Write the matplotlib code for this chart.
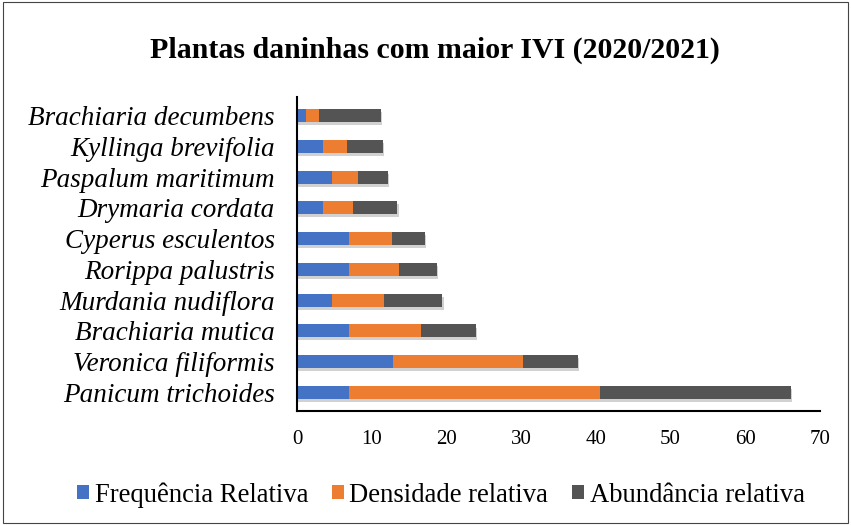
import matplotlib
matplotlib.use("Agg")
import matplotlib.pyplot as plt
import matplotlib.patheffects as pe
from matplotlib.patches import Rectangle
import numpy as np

species = ["Panicum trichoides", "Veronica filiformis", "Brachiaria mutica",
           "Murdania nudiflora", "Rorippa palustris", "Cyperus esculentos",
           "Drymaria cordata", "Paspalum maritimum", "Kyllinga brevifolia",
           "Brachiaria decumbens"]
freq_rel = [7.0, 12.9, 7.0, 4.66, 7.0, 7.0, 3.45, 4.7, 3.45, 1.17]
dens_rel = [33.5, 17.4, 9.6, 7.0, 6.6, 5.7, 4.0, 3.5, 3.2, 1.8]
abund_rel = [25.6, 7.3, 7.3, 7.8, 5.1, 4.4, 6.0, 4.0, 4.8, 8.3]
series_names = ["Frequência Relativa", "Densidade relativa", "Abundância relativa"]
colors = ["#4472C4", "#ED7D31", "#545454"]
xticks = [0, 10, 20, 30, 40, 50, 60, 70]

serif = ["Liberation Serif", "DejaVu Serif"]

fig = plt.figure(figsize=(8.51, 5.25), dpi=100)
ax = fig.add_axes([297/851, 1 - 411/525, (820-297)/851, (411-97)/525])

y = np.arange(len(species))
left = np.zeros(len(species))
shadow = [pe.SimplePatchShadow(offset=(0.8, -2.2), shadow_rgbFace="#000000", alpha=0.18), pe.Normal()]
for vals, name, c in zip([freq_rel, dens_rel, abund_rel], series_names, colors):
    bars = ax.barh(y, vals, left=left, height=0.42, color=c, label=name)
    for b in bars:
        b.set_path_effects(shadow)
    left = left + np.array(vals)

ax.set_xlim(0, 70)
ax.set_ylim(-0.6, len(species) - 0.4)
ax.set_xticks(xticks)
ax.set_xticklabels([str(t) for t in xticks], fontfamily=serif, fontsize=15)
ax.set_yticks(y)
ax.set_yticklabels(species, fontfamily=serif, fontstyle="italic", fontsize=19.5)
ax.tick_params(axis="both", length=0)
ax.tick_params(axis="x", pad=14)
ax.tick_params(axis="y", pad=16)
for s in ["top", "right"]:
    ax.spines[s].set_visible(False)
ax.spines["left"].set_linewidth(1.5)
ax.spines["bottom"].set_linewidth(1.5)

fig.text(435/851, 1 - 50/525, "Plantas daninhas com maior IVI (2020/2021)", ha="center", va="center",
         fontfamily=serif, fontweight="bold", fontsize=21.5)

leg = fig.legend(loc="center", bbox_to_anchor=(441/851, 1 - 495/525), ncol=3, frameon=False,
                 prop={"family": serif, "size": 19.2}, handlelength=0.45, handleheight=0.45,
                 handletextpad=0.2, columnspacing=0.9)
for h in leg.legend_handles:
    h.set_path_effects([pe.Normal()])

fig.patches.append(Rectangle((0.003, 0.003), 0.994, 0.994, transform=fig.transFigure,
                             fill=False, edgecolor="#444444", linewidth=0.8))

fig.savefig("out.png", dpi=100)
